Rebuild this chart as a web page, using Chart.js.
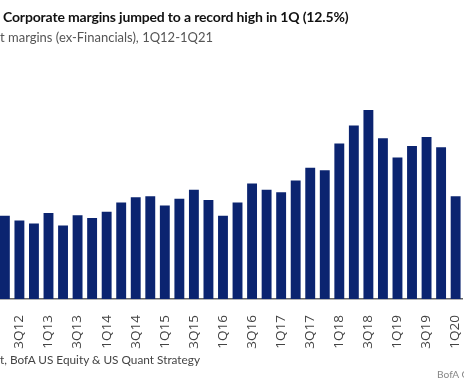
<!DOCTYPE html>
<html>
<head>
<meta charset="utf-8">
<script src="https://cdn.jsdelivr.net/npm/chart.js@4"></script>
<style>
  html, body { margin: 0; padding: 0; background: #fff; overflow: hidden; }
  body { width: 464px; height: 387px; position: relative; font-family: "Lato", sans-serif; }
  #wrap { position: absolute; left: -20px; top: 0; width: 500px; height: 387px; }
  .title { position: absolute; left: 3px; top: 8px; font-size: 14px; font-weight: 700; color: #111; white-space: nowrap; letter-spacing: -0.16px; }
  .sub { position: absolute; left: 0; top: 29px; font-size: 13px; color: #555; white-space: nowrap; }
  .src { position: absolute; left: 0; top: 352px; font-size: 11.8px; color: #444; white-space: nowrap; }
  .brand { position: absolute; left: 437px; top: 368px; font-size: 10.2px; color: #888; white-space: nowrap; }
</style>
</head>
<body>
<div id="wrap"><canvas id="myChart"></canvas></div>
<div class="title">Corporate margins jumped to a record high in 1Q (12.5%)</div>
<div class="sub">t margins (ex-Financials), 1Q12-1Q21</div>
<div class="src">t, BofA US Equity &amp; US Quant Strategy</div>
<div class="brand">BofA GLOBAL RESEARCH</div>
<script>
// quarters visible in the crop, 2Q12 .. 1Q20
const quarters = [
  "2Q12", "3Q12", "4Q12", "1Q13", "2Q13", "3Q13", "4Q13", "1Q14",
  "2Q14", "3Q14", "4Q14", "1Q15", "2Q15", "3Q15", "4Q15", "1Q16",
  "2Q16", "3Q16", "4Q16", "1Q17", "2Q17", "3Q17", "4Q17", "1Q18",
  "2Q18", "3Q18", "4Q18", "1Q19", "2Q19", "3Q19", "4Q19", "1Q20"
];
// net margin ex-financials, %
const margins = [
  8.64, 8.49, 8.40, 8.73, 8.33, 8.66, 8.57, 8.77,
  9.06, 9.23, 9.26, 8.97, 9.18, 9.47, 9.14, 8.64,
  9.06, 9.67, 9.47, 9.39, 9.76, 10.17, 10.09, 10.94,
  11.51, 12.00, 11.10, 10.49, 10.86, 11.14, 10.82, 9.26
];
const yMin = 6;
const yMax = 14;

const ctx = document.getElementById("myChart").getContext("2d");
const myChart = new Chart(ctx, {
  type: "bar",
  data: {
    labels: quarters,
    datasets: [
      {
        label: "Net margin",
        data: margins,
        backgroundColor: "#0b2470",
        borderWidth: 0,
        barPercentage: 0.68,
        categoryPercentage: 1,
      },
    ],
  },
  options: {
    responsive: true,
    maintainAspectRatio: false,
    animation: false,
    layout: { padding: { left: 17.6, right: 10.4, top: 47, bottom: 0 } },
    plugins: { legend: { display: false }, tooltip: { enabled: false } },
    scales: {
      x: {
        grid: { display: false },
        border: { display: true, color: "#666", width: 1.5 },
        afterFit: (scale) => { scale.height = 88; },
        ticks: {
          autoSkip: false,
          maxRotation: 90,
          minRotation: 90,
          padding: 8,
          color: "#444",
          font: { family: "Open Sans", size: 13.5 },
          callback: function (val, i) {
            return i % 2 === 1 ? this.getLabelForValue(val) : "";
          },
        },
      },
      y: {
        display: false,
        min: yMin,
        max: yMax,
      },
    },
  },
});
</script>
</body>
</html>
